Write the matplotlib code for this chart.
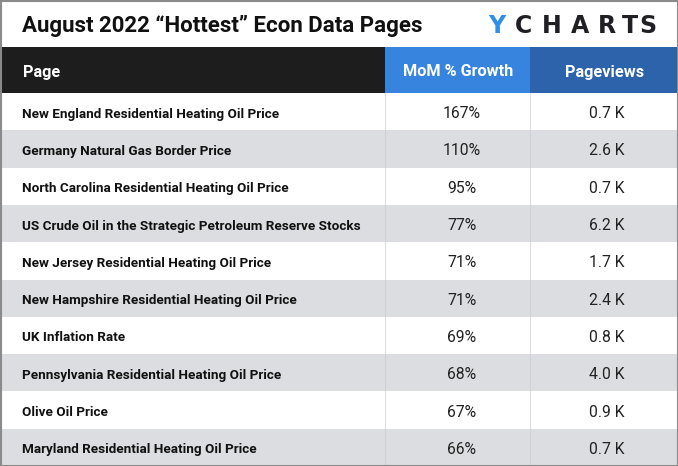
import numpy as np
import matplotlib
matplotlib.use('Agg')
import matplotlib.pyplot as plt

# %% data
pages = [
    "New England Residential Heating Oil Price",
    "Germany Natural Gas Border Price",
    "North Carolina Residential Heating Oil Price",
    "US Crude Oil in the Strategic Petroleum Reserve Stocks",
    "New Jersey Residential Heating Oil Price",
    "New Hampshire Residential Heating Oil Price",
    "UK Inflation Rate",
    "Pennsylvania Residential Heating Oil Price",
    "Olive Oil Price",
    "Maryland Residential Heating Oil Price",
]
mom_growth = [167, 110, 95, 77, 71, 71, 69, 68, 67, 66]
pageviews_k = [0.7, 2.6, 0.7, 6.2, 1.7, 2.4, 0.8, 4.0, 0.9, 0.7]
columns = ["Page", "MoM % Growth", "Pageviews"]

# %% layout (pixel units)
W, H = 678, 466
top_band = 47
header_h = 46
row_h = (H - top_band - header_h) / len(pages)
col_edges = [0, 385, 530, W]
header_colors = ["#1d1d1d", "#3784de", "#2c63aa"]
row_colors = ["#ffffff", "#dcdde1"]

plt.rcParams['font.family'] = ['Roboto', 'DejaVu Sans']

fig = plt.figure(figsize=(W / 100, H / 100), dpi=100)
ax = fig.add_axes([0, 0, 1, 1])
ax.set_xlim(0, W)
ax.set_ylim(H, 0)
ax.axis('off')

# header
hy = top_band + header_h / 2
for i, name in enumerate(columns):
    x0, x1 = col_edges[i], col_edges[i + 1]
    ax.barh(hy, x1 - x0, left=x0, height=header_h,
            color=header_colors[i], linewidth=0)
    if i == 0:
        ax.text(x0 + 23, hy + 6.5, name, color='white',
                fontsize=11.7, fontweight='bold', va='baseline', ha='left')
    else:
        ax.text((x0 + x1) / 2 + 1, hy + 6.5, name, color='white',
                fontsize=11.7, fontweight='bold', va='baseline', ha='center')

# rows
idx = np.arange(len(pages))
yc = top_band + header_h + row_h * (idx + 0.5)
ax.barh(yc, W, left=0, height=row_h,
        color=[row_colors[i % 2] for i in idx], linewidth=0)

# subtle column separators
for xe in col_edges[1:-1]:
    ax.axvline(xe, ymin=0, ymax=(H - top_band - header_h) / H,
               color='#c9cacf', linewidth=0.8, alpha=0.6)

for i in idx:
    ax.text(22, yc[i] + 6, pages[i], fontsize=9.7, fontweight='bold',
            color='#111111', va='baseline', ha='left')
    ax.text((col_edges[1] + col_edges[2]) / 2 + 4, yc[i] + 6.5, f"{mom_growth[i]}%",
            fontsize=11.3, color='#222222', va='baseline', ha='center')
    ax.text((col_edges[2] + col_edges[3]) / 2 + 3, yc[i] + 6.5, f"{pageviews_k[i]:.1f} K",
            fontsize=11.3, color='#222222', va='baseline', ha='center')

# title
ax.text(22, 31.7, "August 2022 \u201cHottest\u201d Econ Data Pages", fontsize=16,
        fontweight='bold', color='#111111', va='baseline', ha='left')

# logo
logo_letters = list("YCHARTS")
logo_centers = [497, 524, 552, 580, 607, 630, 648]
logo_colors = ['#2f8fe8'] + ['#1f1f24'] * 6
for ch, lx, lc in zip(logo_letters, logo_centers, logo_colors):
    ax.text(lx, 33, ch, fontsize=17, fontweight='bold', color=lc,
            family='DejaVu Sans', va='baseline', ha='center')

# outer border
ax.plot([0.5, W - 0.5, W - 0.5, 0.5, 0.5], [0.5, 0.5, H - 0.5, H - 0.5, 0.5],
        color='#8a8a8a', linewidth=1.5)

fig.savefig('out.png', dpi=100)
